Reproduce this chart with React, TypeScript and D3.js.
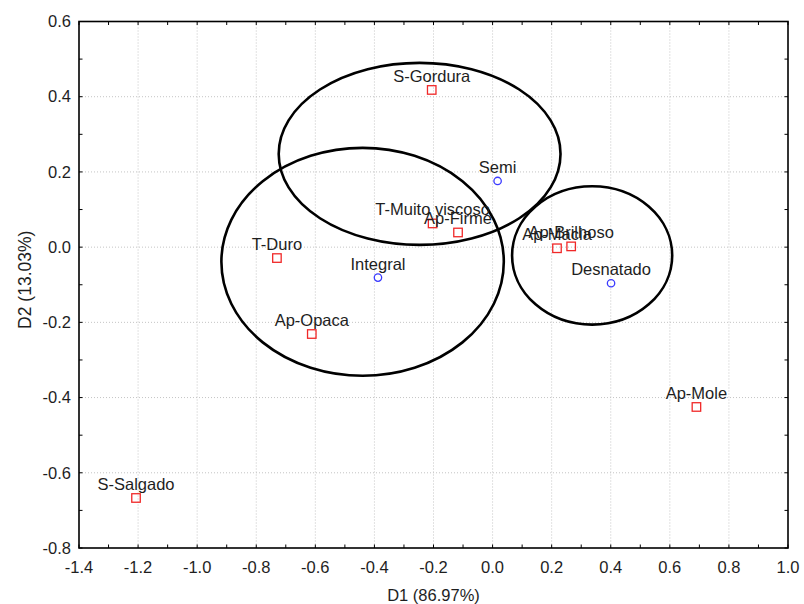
import React, { useEffect, useRef } from "react"
import * as d3 from "d3"

// attributes (red squares)
const attrNames = ["S-Gordura", "T-Muito viscoso", "Ap-Firme", "Ap-Macia", "Ap-Brilhoso", "T-Duro", "Ap-Opaca", "Ap-Mole", "S-Salgado"]
const attrD1 = [-0.206, -0.203, -0.117, 0.218, 0.266, -0.730, -0.612, 0.690, -1.207]
const attrD2 = [0.418, 0.063, 0.039, -0.003, 0.002, -0.029, -0.231, -0.425, -0.667]

// samples (blue circles)
const sampleNames = ["Semi", "Integral", "Desnatado"]
const sampleD1 = [0.017, -0.388, 0.401]
const sampleD2 = [0.176, -0.081, -0.096]

// group ellipses
const ellD1 = [-0.247, -0.440, 0.337]
const ellD2 = [0.248, -0.039, -0.022]
const ellRx = [0.477, 0.478, 0.271]
const ellRy = [0.242, 0.303, 0.184]

const xTicks = [-1.4, -1.2, -1.0, -0.8, -0.6, -0.4, -0.2, 0.0, 0.2, 0.4, 0.6, 0.8, 1.0]
const yTicks = [0.6, 0.4, 0.2, 0.0, -0.2, -0.4, -0.6, -0.8]
const xTitle = "D1 (86.97%)"
const yTitle = "D2 (13.03%)"

const W = 804
const H = 604
const FONT = "'Liberation Sans', Arial, sans-serif"
const TXT = "#1e1e1e"

export default function App() {
  const ref = useRef<SVGSVGElement>(null)

  useEffect(() => {
    const svg = d3.select(ref.current)
    svg.selectAll("*").remove()

    const left = 79, right = 788, top = 21.5, bottom = 548
    const x = d3.scaleLinear().domain([-1.4, 1.0]).range([left, right])
    const y = d3.scaleLinear().domain([-0.8, 0.6]).range([bottom, top])

    svg.append("rect").attr("width", W).attr("height", H).attr("fill", "white")

    // grid
    const grid = svg.append("g")
      .attr("stroke", "#c4c4c4")
      .attr("stroke-width", 1)
      .attr("stroke-dasharray", "1,2")
    grid.selectAll("line.v")
      .data(xTicks.slice(1, -1))
      .enter().append("line")
      .attr("x1", d => x(d)).attr("x2", d => x(d))
      .attr("y1", top).attr("y2", bottom)
    grid.selectAll("line.h")
      .data(yTicks.slice(1, -1))
      .enter().append("line")
      .attr("class", "h")
      .attr("x1", left).attr("x2", right)
      .attr("y1", d => y(d)).attr("y2", d => y(d))

    // minor + major ticks, inward on all four sides
    const xMinor = d3.range(-14, 11).map(v => v / 10)
    const yMinor = d3.range(-8, 7).map(v => v / 10)
    const tk = svg.append("g").attr("stroke", "black").attr("stroke-width", 1)
    const tl = 3.5
    xMinor.forEach(v => {
      tk.append("line").attr("x1", x(v)).attr("x2", x(v)).attr("y1", bottom).attr("y2", bottom - tl)
      tk.append("line").attr("x1", x(v)).attr("x2", x(v)).attr("y1", top).attr("y2", top + tl)
    })
    yMinor.forEach(v => {
      tk.append("line").attr("y1", y(v)).attr("y2", y(v)).attr("x1", left).attr("x2", left + tl)
      tk.append("line").attr("y1", y(v)).attr("y2", y(v)).attr("x1", right).attr("x2", right - tl)
    })

    // frame
    svg.append("rect")
      .attr("x", left).attr("y", top)
      .attr("width", right - left).attr("height", bottom - top)
      .attr("fill", "none").attr("stroke", "black").attr("stroke-width", 1.6)

    // tick labels
    svg.append("g").selectAll("text")
      .data(xTicks)
      .enter().append("text")
      .attr("x", d => x(d)).attr("y", 572.5)
      .attr("text-anchor", "middle")
      .attr("font-family", FONT).attr("font-size", 16.5).attr("fill", TXT)
      .text(d => d.toFixed(1))
    svg.append("g").selectAll("text")
      .data(yTicks)
      .enter().append("text")
      .attr("x", 71).attr("y", d => y(d)).attr("dy", "0.35em")
      .attr("text-anchor", "end")
      .attr("font-family", FONT).attr("font-size", 16.5).attr("fill", TXT)
      .text(d => d.toFixed(1))

    // axis titles
    svg.append("text")
      .attr("x", (left + right) / 2).attr("y", 600.5)
      .attr("text-anchor", "middle")
      .attr("font-family", FONT).attr("font-size", 16.5).attr("fill", TXT)
      .text(xTitle)
    svg.append("text")
      .attr("transform", "translate(31," + ((top + bottom) / 2 - 5) + ") rotate(-90)")
      .attr("text-anchor", "middle")
      .attr("font-family", FONT).attr("font-size", 17.5).attr("fill", TXT)
      .text(yTitle)

    // ellipses
    svg.append("g").selectAll("ellipse")
      .data(ellD1)
      .enter().append("ellipse")
      .attr("cx", d => x(d))
      .attr("cy", (d, i) => y(ellD2[i]))
      .attr("rx", (d, i) => x(ellRx[i]) - x(0))
      .attr("ry", (d, i) => y(0) - y(ellRy[i]))
      .attr("fill", "none").attr("stroke", "black").attr("stroke-width", 2.6)

    // attribute squares
    const s = 8.5
    svg.append("g").selectAll("rect")
      .data(attrD1)
      .enter().append("rect")
      .attr("x", d => x(d) - s / 2)
      .attr("y", (d, i) => y(attrD2[i]) - s / 2)
      .attr("width", s).attr("height", s)
      .attr("fill", "none").attr("stroke", "#f02828").attr("stroke-width", 1.3)

    // sample circles
    svg.append("g").selectAll("circle")
      .data(sampleD1)
      .enter().append("circle")
      .attr("cx", d => x(d))
      .attr("cy", (d, i) => y(sampleD2[i]))
      .attr("r", 3.7)
      .attr("fill", "none").attr("stroke", "#3a3aff").attr("stroke-width", 1.3)

    // labels (overlaps as in the source chart)
    const lab = svg.append("g")
      .attr("font-family", FONT).attr("font-size", 16.5).attr("fill", TXT)
      .attr("text-anchor", "middle")
    attrNames.forEach((n, i) => {
      lab.append("text").attr("x", x(attrD1[i])).attr("y", y(attrD2[i]) - 8).text(n)
    })
    sampleNames.forEach((n, i) => {
      lab.append("text").attr("x", x(sampleD1[i])).attr("y", y(sampleD2[i]) - 8).text(n)
    })
  }, [])

  return (
    <svg
      ref={ref}
      width={W}
      height={H}
      style={{ position: "absolute", left: 0, top: 0, display: "block" }}
    />
  )
}
